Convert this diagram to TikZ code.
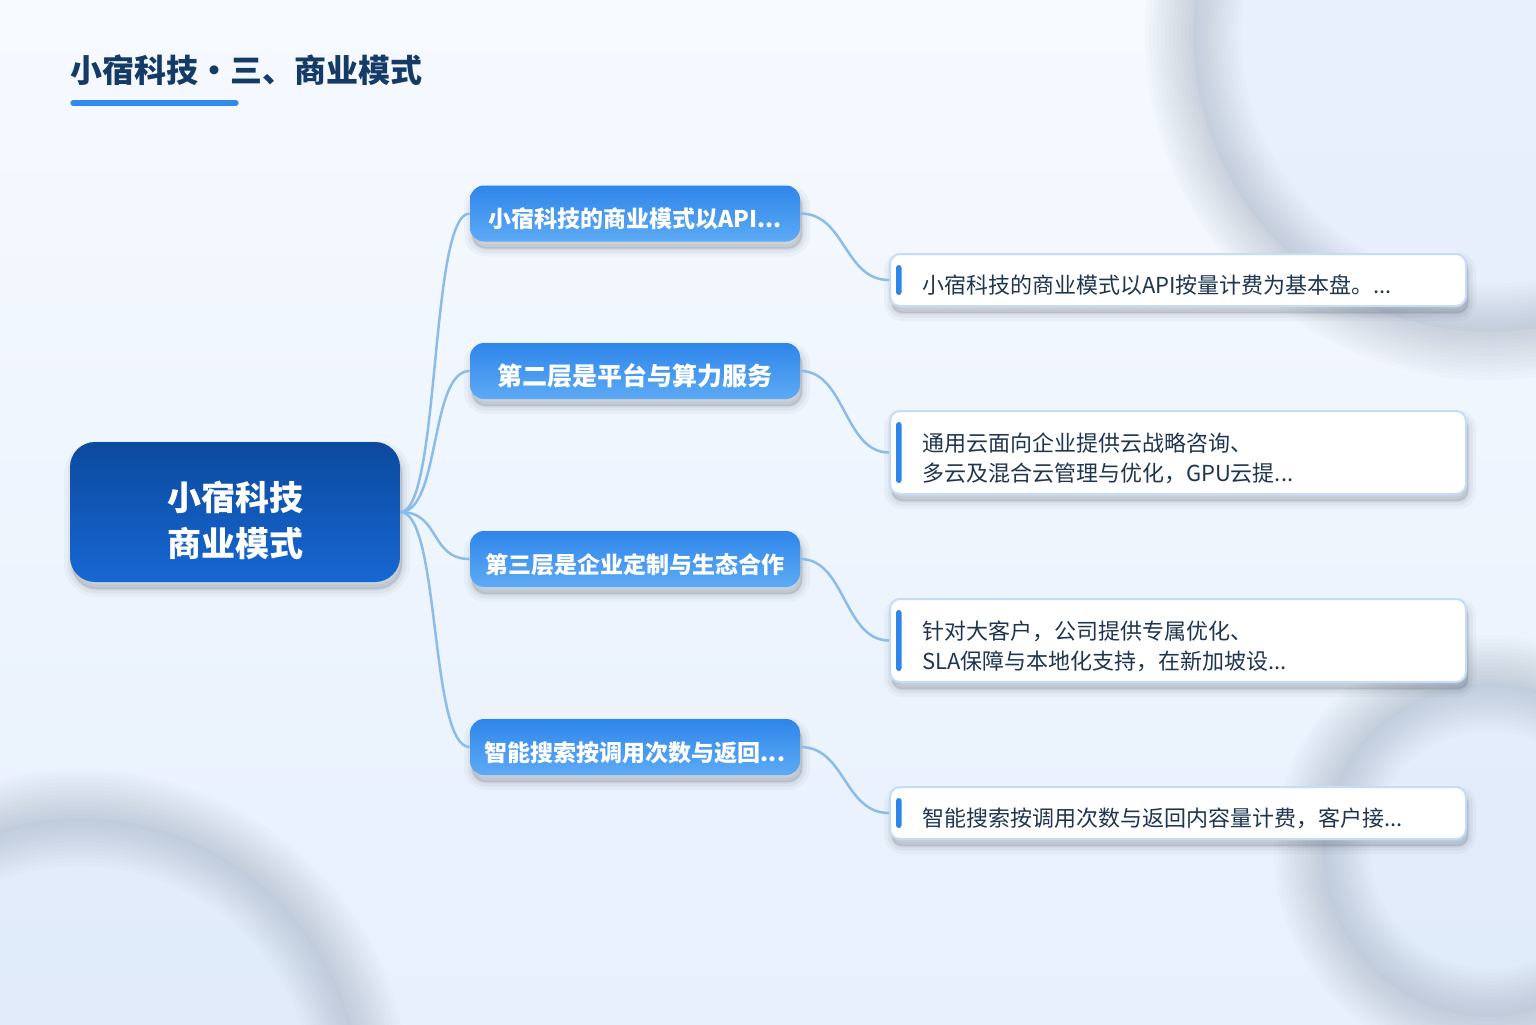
\documentclass[tikz,border=0pt]{standalone}
\usepackage{fontspec}
\setmainfont{Noto Sans CJK SC}
\definecolor{bgTop}{HTML}{F6FAFF}
\definecolor{bgBot}{HTML}{E7F0FC}
\definecolor{circFill}{HTML}{DCE8FA}
\definecolor{bandCol}{HTML}{8A96AA}
\definecolor{shadowCol}{HTML}{3A4350}
\definecolor{titleCol}{HTML}{143A66}
\definecolor{lineBlue}{HTML}{2F8BEF}
\definecolor{rootTop}{HTML}{0B4A9E}
\definecolor{rootBot}{HTML}{1767D3}
\definecolor{brTop}{HTML}{2F86EA}
\definecolor{brBot}{HTML}{5DAAF5}
\definecolor{leafBorder}{HTML}{C4DCF5}
\definecolor{leafText}{HTML}{1F3550}
\definecolor{barBlue}{HTML}{2F86EA}
\definecolor{connCol}{HTML}{8DBCE8}
\begin{document}
\begin{tikzpicture}[x=0.5pt,y=-0.5pt,
  softshadow/.style={
    preaction={fill=shadowCol, draw=shadowCol, line width=8pt, opacity=0.04, transform canvas={xshift=1pt,yshift=-3.5pt}},
    preaction={fill=shadowCol, draw=shadowCol, line width=4.5pt, opacity=0.055, transform canvas={xshift=1pt,yshift=-3.5pt}},
    preaction={fill=shadowCol, draw=shadowCol, line width=1.5pt, opacity=0.075, transform canvas={xshift=1pt,yshift=-3.5pt}}},
  rootbox/.style={rectangle, rounded corners=12.5pt, minimum width=165pt, minimum height=70pt,
    top color=rootTop, bottom color=rootBot, text=white, align=center,
    font=\bfseries\fontsize{17pt}{23pt}\selectfont, text height=44pt, text depth=0pt, softshadow},
  branchbox/.style={rectangle, rounded corners=7pt, minimum width=165pt, minimum height=28pt,
    top color=brTop, bottom color=brBot, text=white, inner xsep=4pt, inner ysep=2pt,
    font=\bfseries\fontsize{11.5pt}{14pt}\selectfont, text height=15.3pt, text depth=1pt, softshadow},
  leafbox/.style={rectangle, rounded corners=5pt, fill=white, draw=leafBorder, line width=1pt,
    text width=256pt, inner xsep=16pt, inner ysep=3pt, align=left, text=leafText,
    font=\fontsize{11pt}{15pt}\selectfont, softshadow,
    path picture={\fill[barBlue, rounded corners=1.4pt]
      ([xshift=3pt,yshift=-5.5pt]path picture bounding box.north west) rectangle
      ([xshift=5.8pt,yshift=5.5pt]path picture bounding box.south west);}},
  oneline/.style={minimum height=26pt, text height=14.4pt, text depth=1pt},
  twoline/.style={minimum height=41.5pt, text height=0pt, text depth=1.1pt},
  conn/.style={draw=connCol, line width=1.25pt}
]
\useasboundingbox (0,0) rectangle (1536,1024);
% background
\shade[top color=bgTop, bottom color=bgBot] (0,0) rectangle (1536,1024);
\begin{scope}
  \clip (0,0) rectangle (1536,1024);
  \fill[circFill, opacity=0.5] (1490,35) circle (297);
  \fill[circFill, opacity=0.5] (80,1100) circle (282);
  \fill[circFill, opacity=0.5] (1489,850) circle (167);
  \foreach \w in {48pt,44pt,40pt,36pt,32pt,28pt,24pt,20pt,16pt,12pt,8pt,4pt}{
    \draw[bandCol, line width=\w, opacity=0.03] (1490,35) circle (297);
    \draw[bandCol, line width=\w, opacity=0.03] (80,1100) circle (282);
    \draw[bandCol, line width=\w, opacity=0.03] (1489,850) circle (167);
  }
\end{scope}

% title
\node[anchor=west, inner sep=0pt, text=titleCol, font=\bfseries\fontsize{16pt}{18pt}\selectfont] (title) at (70,70) {小宿科技・三、商业模式};
\coordinate (ulA) at (73,103);
\coordinate (ulB) at (236,103);
\draw[lineBlue, line width=2.6pt, line cap=round] (ulA) -- (ulB);

% root
\node[rootbox] (root) at (235,512) {小宿科技\\商业模式};

% branches
\node[branchbox] (b1) at (635,213.5) {小宿科技的商业模式以API...};
\node[branchbox, font=\bfseries\fontsize{12.5pt}{15pt}\selectfont, text height=15.8pt] (b2) at (635,371) {第二层是平台与算力服务};
\node[branchbox] (b3) at (635,559) {第三层是企业定制与生态合作};
\node[branchbox] (b4) at (635,747) {智能搜索按调用次数与返回...};

% leaves
\node[leafbox, oneline] (l1) at (1178,280) {小宿科技的商业模式以API按量计费为基本盘。...};
\node[leafbox, twoline] (l2) at (1178,452.5) {通用云面向企业提供云战略咨询、\\多云及混合云管理与优化，GPU云提...};
\node[leafbox, twoline] (l3) at (1178,640.5) {针对大客户，公司提供专属优化、\\SLA保障与本地化支持，在新加坡设...};
\node[leafbox, oneline] (l4) at (1178,813) {智能搜索按调用次数与返回内容量计费，客户接...};

% connectors
\foreach \b in {b1,b2,b3,b4}{
  \draw[conn] (root.east) .. controls +(40,0) and +(-40,0) .. (\b.west);
}
\draw[conn] (b1.east) .. controls +(45,0) and +(-45,0) .. (l1.west);
\draw[conn] (b2.east) .. controls +(45,0) and +(-45,0) .. (l2.west);
\draw[conn] (b3.east) .. controls +(45,0) and +(-45,0) .. (l3.west);
\draw[conn] (b4.east) .. controls +(45,0) and +(-45,0) .. (l4.west);
\end{tikzpicture}
\end{document}
